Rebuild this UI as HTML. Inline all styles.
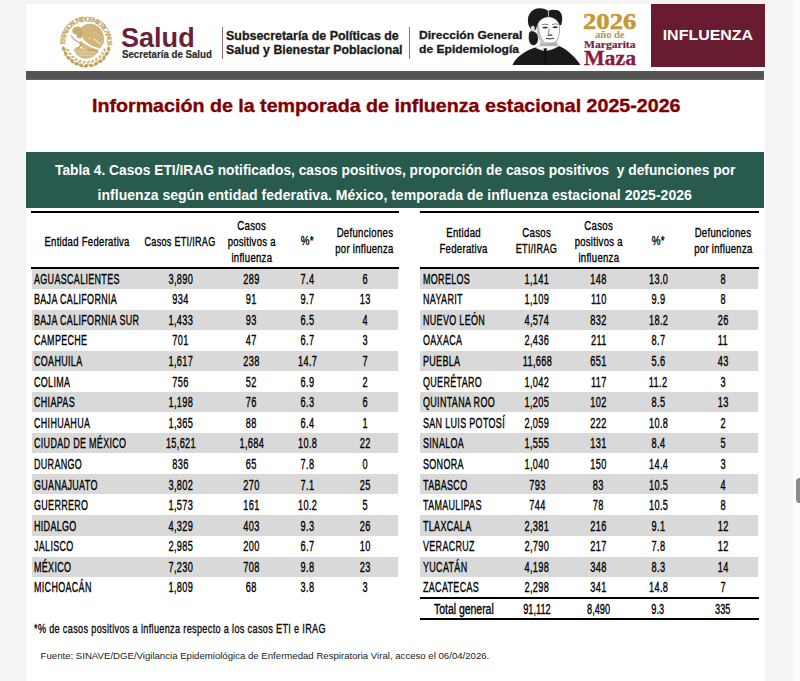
<!DOCTYPE html>
<html><head><meta charset="utf-8"><style>
html,body{margin:0;padding:0}
body{width:800px;height:681px;overflow:hidden;position:relative;background:#f4f4f4;font-family:"Liberation Sans",sans-serif}
.r{position:absolute}
.t{position:absolute;white-space:nowrap;line-height:1}
.c{width:0;display:flex;justify-content:center}
.c span{display:inline-block;white-space:nowrap;flex:none}
.n{-webkit-text-stroke:0.25px #000}
</style></head><body>
<div class="r" style="left:793px;top:0;width:7px;height:681px;background:#fcfcfc"></div>
<div class="r" style="left:796px;top:478px;width:7px;height:25px;border-radius:3.5px;background:#8a8a8a"></div>
<div class="r" style="left:26px;top:4px;width:739px;height:677px;background:#fff"></div>
<div class="r" style="left:32.2px;top:268.40px;width:365.90px;height:20.25px;background:#d9d9d9"></div>
<div class="t" style="left:34.30px;top:271.75px;font-size:14.0px;font-weight:normal;color:#000;font-family:'Liberation Sans';transform:scaleX(0.641);transform-origin:0 0;letter-spacing:0.5px;-webkit-text-stroke:0.35px #000;">AGUASCALIENTES</div>
<div class="t c" style="left:180.30px;top:271.75px;font-size:14.0px;font-weight:normal;color:#000;font-family:'Liberation Sans';letter-spacing:0.5px;margin-right:-0.5px;-webkit-text-stroke:0.35px #000;"><span style="transform:scaleX(0.656);letter-spacing:0.5px;margin-right:-0.5px;-webkit-text-stroke:0.35px #000;">3,890</span></div>
<div class="t c" style="left:251.40px;top:271.75px;font-size:14.0px;font-weight:normal;color:#000;font-family:'Liberation Sans';letter-spacing:0.5px;margin-right:-0.5px;-webkit-text-stroke:0.35px #000;"><span style="transform:scaleX(0.656);letter-spacing:0.5px;margin-right:-0.5px;-webkit-text-stroke:0.35px #000;">289</span></div>
<div class="t c" style="left:307.20px;top:271.75px;font-size:14.0px;font-weight:normal;color:#000;font-family:'Liberation Sans';letter-spacing:0.5px;margin-right:-0.5px;-webkit-text-stroke:0.35px #000;"><span style="transform:scaleX(0.656);letter-spacing:0.5px;margin-right:-0.5px;-webkit-text-stroke:0.35px #000;">7.4</span></div>
<div class="t c" style="left:365.00px;top:271.75px;font-size:14.0px;font-weight:normal;color:#000;font-family:'Liberation Sans';letter-spacing:0.5px;margin-right:-0.5px;-webkit-text-stroke:0.35px #000;"><span style="transform:scaleX(0.656);letter-spacing:0.5px;margin-right:-0.5px;-webkit-text-stroke:0.35px #000;">6</span></div>
<div class="t" style="left:34.30px;top:292.33px;font-size:14.0px;font-weight:normal;color:#000;font-family:'Liberation Sans';transform:scaleX(0.641);transform-origin:0 0;letter-spacing:0.5px;-webkit-text-stroke:0.35px #000;">BAJA CALIFORNIA</div>
<div class="t c" style="left:180.30px;top:292.33px;font-size:14.0px;font-weight:normal;color:#000;font-family:'Liberation Sans';letter-spacing:0.5px;margin-right:-0.5px;-webkit-text-stroke:0.35px #000;"><span style="transform:scaleX(0.656);letter-spacing:0.5px;margin-right:-0.5px;-webkit-text-stroke:0.35px #000;">934</span></div>
<div class="t c" style="left:251.40px;top:292.33px;font-size:14.0px;font-weight:normal;color:#000;font-family:'Liberation Sans';letter-spacing:0.5px;margin-right:-0.5px;-webkit-text-stroke:0.35px #000;"><span style="transform:scaleX(0.656);letter-spacing:0.5px;margin-right:-0.5px;-webkit-text-stroke:0.35px #000;">91</span></div>
<div class="t c" style="left:307.20px;top:292.33px;font-size:14.0px;font-weight:normal;color:#000;font-family:'Liberation Sans';letter-spacing:0.5px;margin-right:-0.5px;-webkit-text-stroke:0.35px #000;"><span style="transform:scaleX(0.656);letter-spacing:0.5px;margin-right:-0.5px;-webkit-text-stroke:0.35px #000;">9.7</span></div>
<div class="t c" style="left:365.00px;top:292.33px;font-size:14.0px;font-weight:normal;color:#000;font-family:'Liberation Sans';letter-spacing:0.5px;margin-right:-0.5px;-webkit-text-stroke:0.35px #000;"><span style="transform:scaleX(0.656);letter-spacing:0.5px;margin-right:-0.5px;-webkit-text-stroke:0.35px #000;">13</span></div>
<div class="r" style="left:32.2px;top:309.56px;width:365.90px;height:20.25px;background:#d9d9d9"></div>
<div class="t" style="left:34.30px;top:312.91px;font-size:14.0px;font-weight:normal;color:#000;font-family:'Liberation Sans';transform:scaleX(0.641);transform-origin:0 0;letter-spacing:0.5px;-webkit-text-stroke:0.35px #000;">BAJA CALIFORNIA SUR</div>
<div class="t c" style="left:180.30px;top:312.91px;font-size:14.0px;font-weight:normal;color:#000;font-family:'Liberation Sans';letter-spacing:0.5px;margin-right:-0.5px;-webkit-text-stroke:0.35px #000;"><span style="transform:scaleX(0.656);letter-spacing:0.5px;margin-right:-0.5px;-webkit-text-stroke:0.35px #000;">1,433</span></div>
<div class="t c" style="left:251.40px;top:312.91px;font-size:14.0px;font-weight:normal;color:#000;font-family:'Liberation Sans';letter-spacing:0.5px;margin-right:-0.5px;-webkit-text-stroke:0.35px #000;"><span style="transform:scaleX(0.656);letter-spacing:0.5px;margin-right:-0.5px;-webkit-text-stroke:0.35px #000;">93</span></div>
<div class="t c" style="left:307.20px;top:312.91px;font-size:14.0px;font-weight:normal;color:#000;font-family:'Liberation Sans';letter-spacing:0.5px;margin-right:-0.5px;-webkit-text-stroke:0.35px #000;"><span style="transform:scaleX(0.656);letter-spacing:0.5px;margin-right:-0.5px;-webkit-text-stroke:0.35px #000;">6.5</span></div>
<div class="t c" style="left:365.00px;top:312.91px;font-size:14.0px;font-weight:normal;color:#000;font-family:'Liberation Sans';letter-spacing:0.5px;margin-right:-0.5px;-webkit-text-stroke:0.35px #000;"><span style="transform:scaleX(0.656);letter-spacing:0.5px;margin-right:-0.5px;-webkit-text-stroke:0.35px #000;">4</span></div>
<div class="t" style="left:34.30px;top:333.49px;font-size:14.0px;font-weight:normal;color:#000;font-family:'Liberation Sans';transform:scaleX(0.641);transform-origin:0 0;letter-spacing:0.5px;-webkit-text-stroke:0.35px #000;">CAMPECHE</div>
<div class="t c" style="left:180.30px;top:333.49px;font-size:14.0px;font-weight:normal;color:#000;font-family:'Liberation Sans';letter-spacing:0.5px;margin-right:-0.5px;-webkit-text-stroke:0.35px #000;"><span style="transform:scaleX(0.656);letter-spacing:0.5px;margin-right:-0.5px;-webkit-text-stroke:0.35px #000;">701</span></div>
<div class="t c" style="left:251.40px;top:333.49px;font-size:14.0px;font-weight:normal;color:#000;font-family:'Liberation Sans';letter-spacing:0.5px;margin-right:-0.5px;-webkit-text-stroke:0.35px #000;"><span style="transform:scaleX(0.656);letter-spacing:0.5px;margin-right:-0.5px;-webkit-text-stroke:0.35px #000;">47</span></div>
<div class="t c" style="left:307.20px;top:333.49px;font-size:14.0px;font-weight:normal;color:#000;font-family:'Liberation Sans';letter-spacing:0.5px;margin-right:-0.5px;-webkit-text-stroke:0.35px #000;"><span style="transform:scaleX(0.656);letter-spacing:0.5px;margin-right:-0.5px;-webkit-text-stroke:0.35px #000;">6.7</span></div>
<div class="t c" style="left:365.00px;top:333.49px;font-size:14.0px;font-weight:normal;color:#000;font-family:'Liberation Sans';letter-spacing:0.5px;margin-right:-0.5px;-webkit-text-stroke:0.35px #000;"><span style="transform:scaleX(0.656);letter-spacing:0.5px;margin-right:-0.5px;-webkit-text-stroke:0.35px #000;">3</span></div>
<div class="r" style="left:32.2px;top:350.72px;width:365.90px;height:20.25px;background:#d9d9d9"></div>
<div class="t" style="left:34.30px;top:354.07px;font-size:14.0px;font-weight:normal;color:#000;font-family:'Liberation Sans';transform:scaleX(0.641);transform-origin:0 0;letter-spacing:0.5px;-webkit-text-stroke:0.35px #000;">COAHUILA</div>
<div class="t c" style="left:180.30px;top:354.07px;font-size:14.0px;font-weight:normal;color:#000;font-family:'Liberation Sans';letter-spacing:0.5px;margin-right:-0.5px;-webkit-text-stroke:0.35px #000;"><span style="transform:scaleX(0.656);letter-spacing:0.5px;margin-right:-0.5px;-webkit-text-stroke:0.35px #000;">1,617</span></div>
<div class="t c" style="left:251.40px;top:354.07px;font-size:14.0px;font-weight:normal;color:#000;font-family:'Liberation Sans';letter-spacing:0.5px;margin-right:-0.5px;-webkit-text-stroke:0.35px #000;"><span style="transform:scaleX(0.656);letter-spacing:0.5px;margin-right:-0.5px;-webkit-text-stroke:0.35px #000;">238</span></div>
<div class="t c" style="left:307.20px;top:354.07px;font-size:14.0px;font-weight:normal;color:#000;font-family:'Liberation Sans';letter-spacing:0.5px;margin-right:-0.5px;-webkit-text-stroke:0.35px #000;"><span style="transform:scaleX(0.656);letter-spacing:0.5px;margin-right:-0.5px;-webkit-text-stroke:0.35px #000;">14.7</span></div>
<div class="t c" style="left:365.00px;top:354.07px;font-size:14.0px;font-weight:normal;color:#000;font-family:'Liberation Sans';letter-spacing:0.5px;margin-right:-0.5px;-webkit-text-stroke:0.35px #000;"><span style="transform:scaleX(0.656);letter-spacing:0.5px;margin-right:-0.5px;-webkit-text-stroke:0.35px #000;">7</span></div>
<div class="t" style="left:34.30px;top:374.65px;font-size:14.0px;font-weight:normal;color:#000;font-family:'Liberation Sans';transform:scaleX(0.641);transform-origin:0 0;letter-spacing:0.5px;-webkit-text-stroke:0.35px #000;">COLIMA</div>
<div class="t c" style="left:180.30px;top:374.65px;font-size:14.0px;font-weight:normal;color:#000;font-family:'Liberation Sans';letter-spacing:0.5px;margin-right:-0.5px;-webkit-text-stroke:0.35px #000;"><span style="transform:scaleX(0.656);letter-spacing:0.5px;margin-right:-0.5px;-webkit-text-stroke:0.35px #000;">756</span></div>
<div class="t c" style="left:251.40px;top:374.65px;font-size:14.0px;font-weight:normal;color:#000;font-family:'Liberation Sans';letter-spacing:0.5px;margin-right:-0.5px;-webkit-text-stroke:0.35px #000;"><span style="transform:scaleX(0.656);letter-spacing:0.5px;margin-right:-0.5px;-webkit-text-stroke:0.35px #000;">52</span></div>
<div class="t c" style="left:307.20px;top:374.65px;font-size:14.0px;font-weight:normal;color:#000;font-family:'Liberation Sans';letter-spacing:0.5px;margin-right:-0.5px;-webkit-text-stroke:0.35px #000;"><span style="transform:scaleX(0.656);letter-spacing:0.5px;margin-right:-0.5px;-webkit-text-stroke:0.35px #000;">6.9</span></div>
<div class="t c" style="left:365.00px;top:374.65px;font-size:14.0px;font-weight:normal;color:#000;font-family:'Liberation Sans';letter-spacing:0.5px;margin-right:-0.5px;-webkit-text-stroke:0.35px #000;"><span style="transform:scaleX(0.656);letter-spacing:0.5px;margin-right:-0.5px;-webkit-text-stroke:0.35px #000;">2</span></div>
<div class="r" style="left:32.2px;top:391.88px;width:365.90px;height:20.25px;background:#d9d9d9"></div>
<div class="t" style="left:34.30px;top:395.23px;font-size:14.0px;font-weight:normal;color:#000;font-family:'Liberation Sans';transform:scaleX(0.641);transform-origin:0 0;letter-spacing:0.5px;-webkit-text-stroke:0.35px #000;">CHIAPAS</div>
<div class="t c" style="left:180.30px;top:395.23px;font-size:14.0px;font-weight:normal;color:#000;font-family:'Liberation Sans';letter-spacing:0.5px;margin-right:-0.5px;-webkit-text-stroke:0.35px #000;"><span style="transform:scaleX(0.656);letter-spacing:0.5px;margin-right:-0.5px;-webkit-text-stroke:0.35px #000;">1,198</span></div>
<div class="t c" style="left:251.40px;top:395.23px;font-size:14.0px;font-weight:normal;color:#000;font-family:'Liberation Sans';letter-spacing:0.5px;margin-right:-0.5px;-webkit-text-stroke:0.35px #000;"><span style="transform:scaleX(0.656);letter-spacing:0.5px;margin-right:-0.5px;-webkit-text-stroke:0.35px #000;">76</span></div>
<div class="t c" style="left:307.20px;top:395.23px;font-size:14.0px;font-weight:normal;color:#000;font-family:'Liberation Sans';letter-spacing:0.5px;margin-right:-0.5px;-webkit-text-stroke:0.35px #000;"><span style="transform:scaleX(0.656);letter-spacing:0.5px;margin-right:-0.5px;-webkit-text-stroke:0.35px #000;">6.3</span></div>
<div class="t c" style="left:365.00px;top:395.23px;font-size:14.0px;font-weight:normal;color:#000;font-family:'Liberation Sans';letter-spacing:0.5px;margin-right:-0.5px;-webkit-text-stroke:0.35px #000;"><span style="transform:scaleX(0.656);letter-spacing:0.5px;margin-right:-0.5px;-webkit-text-stroke:0.35px #000;">6</span></div>
<div class="t" style="left:34.30px;top:415.81px;font-size:14.0px;font-weight:normal;color:#000;font-family:'Liberation Sans';transform:scaleX(0.641);transform-origin:0 0;letter-spacing:0.5px;-webkit-text-stroke:0.35px #000;">CHIHUAHUA</div>
<div class="t c" style="left:180.30px;top:415.81px;font-size:14.0px;font-weight:normal;color:#000;font-family:'Liberation Sans';letter-spacing:0.5px;margin-right:-0.5px;-webkit-text-stroke:0.35px #000;"><span style="transform:scaleX(0.656);letter-spacing:0.5px;margin-right:-0.5px;-webkit-text-stroke:0.35px #000;">1,365</span></div>
<div class="t c" style="left:251.40px;top:415.81px;font-size:14.0px;font-weight:normal;color:#000;font-family:'Liberation Sans';letter-spacing:0.5px;margin-right:-0.5px;-webkit-text-stroke:0.35px #000;"><span style="transform:scaleX(0.656);letter-spacing:0.5px;margin-right:-0.5px;-webkit-text-stroke:0.35px #000;">88</span></div>
<div class="t c" style="left:307.20px;top:415.81px;font-size:14.0px;font-weight:normal;color:#000;font-family:'Liberation Sans';letter-spacing:0.5px;margin-right:-0.5px;-webkit-text-stroke:0.35px #000;"><span style="transform:scaleX(0.656);letter-spacing:0.5px;margin-right:-0.5px;-webkit-text-stroke:0.35px #000;">6.4</span></div>
<div class="t c" style="left:365.00px;top:415.81px;font-size:14.0px;font-weight:normal;color:#000;font-family:'Liberation Sans';letter-spacing:0.5px;margin-right:-0.5px;-webkit-text-stroke:0.35px #000;"><span style="transform:scaleX(0.656);letter-spacing:0.5px;margin-right:-0.5px;-webkit-text-stroke:0.35px #000;">1</span></div>
<div class="r" style="left:32.2px;top:433.04px;width:365.90px;height:20.25px;background:#d9d9d9"></div>
<div class="t" style="left:34.30px;top:436.39px;font-size:14.0px;font-weight:normal;color:#000;font-family:'Liberation Sans';transform:scaleX(0.641);transform-origin:0 0;letter-spacing:0.5px;-webkit-text-stroke:0.35px #000;">CIUDAD DE MÉXICO</div>
<div class="t c" style="left:180.30px;top:436.39px;font-size:14.0px;font-weight:normal;color:#000;font-family:'Liberation Sans';letter-spacing:0.5px;margin-right:-0.5px;-webkit-text-stroke:0.35px #000;"><span style="transform:scaleX(0.656);letter-spacing:0.5px;margin-right:-0.5px;-webkit-text-stroke:0.35px #000;">15,621</span></div>
<div class="t c" style="left:251.40px;top:436.39px;font-size:14.0px;font-weight:normal;color:#000;font-family:'Liberation Sans';letter-spacing:0.5px;margin-right:-0.5px;-webkit-text-stroke:0.35px #000;"><span style="transform:scaleX(0.656);letter-spacing:0.5px;margin-right:-0.5px;-webkit-text-stroke:0.35px #000;">1,684</span></div>
<div class="t c" style="left:307.20px;top:436.39px;font-size:14.0px;font-weight:normal;color:#000;font-family:'Liberation Sans';letter-spacing:0.5px;margin-right:-0.5px;-webkit-text-stroke:0.35px #000;"><span style="transform:scaleX(0.656);letter-spacing:0.5px;margin-right:-0.5px;-webkit-text-stroke:0.35px #000;">10.8</span></div>
<div class="t c" style="left:365.00px;top:436.39px;font-size:14.0px;font-weight:normal;color:#000;font-family:'Liberation Sans';letter-spacing:0.5px;margin-right:-0.5px;-webkit-text-stroke:0.35px #000;"><span style="transform:scaleX(0.656);letter-spacing:0.5px;margin-right:-0.5px;-webkit-text-stroke:0.35px #000;">22</span></div>
<div class="t" style="left:34.30px;top:456.97px;font-size:14.0px;font-weight:normal;color:#000;font-family:'Liberation Sans';transform:scaleX(0.641);transform-origin:0 0;letter-spacing:0.5px;-webkit-text-stroke:0.35px #000;">DURANGO</div>
<div class="t c" style="left:180.30px;top:456.97px;font-size:14.0px;font-weight:normal;color:#000;font-family:'Liberation Sans';letter-spacing:0.5px;margin-right:-0.5px;-webkit-text-stroke:0.35px #000;"><span style="transform:scaleX(0.656);letter-spacing:0.5px;margin-right:-0.5px;-webkit-text-stroke:0.35px #000;">836</span></div>
<div class="t c" style="left:251.40px;top:456.97px;font-size:14.0px;font-weight:normal;color:#000;font-family:'Liberation Sans';letter-spacing:0.5px;margin-right:-0.5px;-webkit-text-stroke:0.35px #000;"><span style="transform:scaleX(0.656);letter-spacing:0.5px;margin-right:-0.5px;-webkit-text-stroke:0.35px #000;">65</span></div>
<div class="t c" style="left:307.20px;top:456.97px;font-size:14.0px;font-weight:normal;color:#000;font-family:'Liberation Sans';letter-spacing:0.5px;margin-right:-0.5px;-webkit-text-stroke:0.35px #000;"><span style="transform:scaleX(0.656);letter-spacing:0.5px;margin-right:-0.5px;-webkit-text-stroke:0.35px #000;">7.8</span></div>
<div class="t c" style="left:365.00px;top:456.97px;font-size:14.0px;font-weight:normal;color:#000;font-family:'Liberation Sans';letter-spacing:0.5px;margin-right:-0.5px;-webkit-text-stroke:0.35px #000;"><span style="transform:scaleX(0.656);letter-spacing:0.5px;margin-right:-0.5px;-webkit-text-stroke:0.35px #000;">0</span></div>
<div class="r" style="left:32.2px;top:474.20px;width:365.90px;height:20.25px;background:#d9d9d9"></div>
<div class="t" style="left:34.30px;top:477.55px;font-size:14.0px;font-weight:normal;color:#000;font-family:'Liberation Sans';transform:scaleX(0.641);transform-origin:0 0;letter-spacing:0.5px;-webkit-text-stroke:0.35px #000;">GUANAJUATO</div>
<div class="t c" style="left:180.30px;top:477.55px;font-size:14.0px;font-weight:normal;color:#000;font-family:'Liberation Sans';letter-spacing:0.5px;margin-right:-0.5px;-webkit-text-stroke:0.35px #000;"><span style="transform:scaleX(0.656);letter-spacing:0.5px;margin-right:-0.5px;-webkit-text-stroke:0.35px #000;">3,802</span></div>
<div class="t c" style="left:251.40px;top:477.55px;font-size:14.0px;font-weight:normal;color:#000;font-family:'Liberation Sans';letter-spacing:0.5px;margin-right:-0.5px;-webkit-text-stroke:0.35px #000;"><span style="transform:scaleX(0.656);letter-spacing:0.5px;margin-right:-0.5px;-webkit-text-stroke:0.35px #000;">270</span></div>
<div class="t c" style="left:307.20px;top:477.55px;font-size:14.0px;font-weight:normal;color:#000;font-family:'Liberation Sans';letter-spacing:0.5px;margin-right:-0.5px;-webkit-text-stroke:0.35px #000;"><span style="transform:scaleX(0.656);letter-spacing:0.5px;margin-right:-0.5px;-webkit-text-stroke:0.35px #000;">7.1</span></div>
<div class="t c" style="left:365.00px;top:477.55px;font-size:14.0px;font-weight:normal;color:#000;font-family:'Liberation Sans';letter-spacing:0.5px;margin-right:-0.5px;-webkit-text-stroke:0.35px #000;"><span style="transform:scaleX(0.656);letter-spacing:0.5px;margin-right:-0.5px;-webkit-text-stroke:0.35px #000;">25</span></div>
<div class="t" style="left:34.30px;top:498.13px;font-size:14.0px;font-weight:normal;color:#000;font-family:'Liberation Sans';transform:scaleX(0.641);transform-origin:0 0;letter-spacing:0.5px;-webkit-text-stroke:0.35px #000;">GUERRERO</div>
<div class="t c" style="left:180.30px;top:498.13px;font-size:14.0px;font-weight:normal;color:#000;font-family:'Liberation Sans';letter-spacing:0.5px;margin-right:-0.5px;-webkit-text-stroke:0.35px #000;"><span style="transform:scaleX(0.656);letter-spacing:0.5px;margin-right:-0.5px;-webkit-text-stroke:0.35px #000;">1,573</span></div>
<div class="t c" style="left:251.40px;top:498.13px;font-size:14.0px;font-weight:normal;color:#000;font-family:'Liberation Sans';letter-spacing:0.5px;margin-right:-0.5px;-webkit-text-stroke:0.35px #000;"><span style="transform:scaleX(0.656);letter-spacing:0.5px;margin-right:-0.5px;-webkit-text-stroke:0.35px #000;">161</span></div>
<div class="t c" style="left:307.20px;top:498.13px;font-size:14.0px;font-weight:normal;color:#000;font-family:'Liberation Sans';letter-spacing:0.5px;margin-right:-0.5px;-webkit-text-stroke:0.35px #000;"><span style="transform:scaleX(0.656);letter-spacing:0.5px;margin-right:-0.5px;-webkit-text-stroke:0.35px #000;">10.2</span></div>
<div class="t c" style="left:365.00px;top:498.13px;font-size:14.0px;font-weight:normal;color:#000;font-family:'Liberation Sans';letter-spacing:0.5px;margin-right:-0.5px;-webkit-text-stroke:0.35px #000;"><span style="transform:scaleX(0.656);letter-spacing:0.5px;margin-right:-0.5px;-webkit-text-stroke:0.35px #000;">5</span></div>
<div class="r" style="left:32.2px;top:515.36px;width:365.90px;height:20.25px;background:#d9d9d9"></div>
<div class="t" style="left:34.30px;top:518.71px;font-size:14.0px;font-weight:normal;color:#000;font-family:'Liberation Sans';transform:scaleX(0.641);transform-origin:0 0;letter-spacing:0.5px;-webkit-text-stroke:0.35px #000;">HIDALGO</div>
<div class="t c" style="left:180.30px;top:518.71px;font-size:14.0px;font-weight:normal;color:#000;font-family:'Liberation Sans';letter-spacing:0.5px;margin-right:-0.5px;-webkit-text-stroke:0.35px #000;"><span style="transform:scaleX(0.656);letter-spacing:0.5px;margin-right:-0.5px;-webkit-text-stroke:0.35px #000;">4,329</span></div>
<div class="t c" style="left:251.40px;top:518.71px;font-size:14.0px;font-weight:normal;color:#000;font-family:'Liberation Sans';letter-spacing:0.5px;margin-right:-0.5px;-webkit-text-stroke:0.35px #000;"><span style="transform:scaleX(0.656);letter-spacing:0.5px;margin-right:-0.5px;-webkit-text-stroke:0.35px #000;">403</span></div>
<div class="t c" style="left:307.20px;top:518.71px;font-size:14.0px;font-weight:normal;color:#000;font-family:'Liberation Sans';letter-spacing:0.5px;margin-right:-0.5px;-webkit-text-stroke:0.35px #000;"><span style="transform:scaleX(0.656);letter-spacing:0.5px;margin-right:-0.5px;-webkit-text-stroke:0.35px #000;">9.3</span></div>
<div class="t c" style="left:365.00px;top:518.71px;font-size:14.0px;font-weight:normal;color:#000;font-family:'Liberation Sans';letter-spacing:0.5px;margin-right:-0.5px;-webkit-text-stroke:0.35px #000;"><span style="transform:scaleX(0.656);letter-spacing:0.5px;margin-right:-0.5px;-webkit-text-stroke:0.35px #000;">26</span></div>
<div class="t" style="left:34.30px;top:539.29px;font-size:14.0px;font-weight:normal;color:#000;font-family:'Liberation Sans';transform:scaleX(0.641);transform-origin:0 0;letter-spacing:0.5px;-webkit-text-stroke:0.35px #000;">JALISCO</div>
<div class="t c" style="left:180.30px;top:539.29px;font-size:14.0px;font-weight:normal;color:#000;font-family:'Liberation Sans';letter-spacing:0.5px;margin-right:-0.5px;-webkit-text-stroke:0.35px #000;"><span style="transform:scaleX(0.656);letter-spacing:0.5px;margin-right:-0.5px;-webkit-text-stroke:0.35px #000;">2,985</span></div>
<div class="t c" style="left:251.40px;top:539.29px;font-size:14.0px;font-weight:normal;color:#000;font-family:'Liberation Sans';letter-spacing:0.5px;margin-right:-0.5px;-webkit-text-stroke:0.35px #000;"><span style="transform:scaleX(0.656);letter-spacing:0.5px;margin-right:-0.5px;-webkit-text-stroke:0.35px #000;">200</span></div>
<div class="t c" style="left:307.20px;top:539.29px;font-size:14.0px;font-weight:normal;color:#000;font-family:'Liberation Sans';letter-spacing:0.5px;margin-right:-0.5px;-webkit-text-stroke:0.35px #000;"><span style="transform:scaleX(0.656);letter-spacing:0.5px;margin-right:-0.5px;-webkit-text-stroke:0.35px #000;">6.7</span></div>
<div class="t c" style="left:365.00px;top:539.29px;font-size:14.0px;font-weight:normal;color:#000;font-family:'Liberation Sans';letter-spacing:0.5px;margin-right:-0.5px;-webkit-text-stroke:0.35px #000;"><span style="transform:scaleX(0.656);letter-spacing:0.5px;margin-right:-0.5px;-webkit-text-stroke:0.35px #000;">10</span></div>
<div class="r" style="left:32.2px;top:556.52px;width:365.90px;height:20.25px;background:#d9d9d9"></div>
<div class="t" style="left:34.30px;top:559.87px;font-size:14.0px;font-weight:normal;color:#000;font-family:'Liberation Sans';transform:scaleX(0.641);transform-origin:0 0;letter-spacing:0.5px;-webkit-text-stroke:0.35px #000;">MÉXICO</div>
<div class="t c" style="left:180.30px;top:559.87px;font-size:14.0px;font-weight:normal;color:#000;font-family:'Liberation Sans';letter-spacing:0.5px;margin-right:-0.5px;-webkit-text-stroke:0.35px #000;"><span style="transform:scaleX(0.656);letter-spacing:0.5px;margin-right:-0.5px;-webkit-text-stroke:0.35px #000;">7,230</span></div>
<div class="t c" style="left:251.40px;top:559.87px;font-size:14.0px;font-weight:normal;color:#000;font-family:'Liberation Sans';letter-spacing:0.5px;margin-right:-0.5px;-webkit-text-stroke:0.35px #000;"><span style="transform:scaleX(0.656);letter-spacing:0.5px;margin-right:-0.5px;-webkit-text-stroke:0.35px #000;">708</span></div>
<div class="t c" style="left:307.20px;top:559.87px;font-size:14.0px;font-weight:normal;color:#000;font-family:'Liberation Sans';letter-spacing:0.5px;margin-right:-0.5px;-webkit-text-stroke:0.35px #000;"><span style="transform:scaleX(0.656);letter-spacing:0.5px;margin-right:-0.5px;-webkit-text-stroke:0.35px #000;">9.8</span></div>
<div class="t c" style="left:365.00px;top:559.87px;font-size:14.0px;font-weight:normal;color:#000;font-family:'Liberation Sans';letter-spacing:0.5px;margin-right:-0.5px;-webkit-text-stroke:0.35px #000;"><span style="transform:scaleX(0.656);letter-spacing:0.5px;margin-right:-0.5px;-webkit-text-stroke:0.35px #000;">23</span></div>
<div class="t" style="left:34.30px;top:580.45px;font-size:14.0px;font-weight:normal;color:#000;font-family:'Liberation Sans';transform:scaleX(0.641);transform-origin:0 0;letter-spacing:0.5px;-webkit-text-stroke:0.35px #000;">MICHOACÁN</div>
<div class="t c" style="left:180.30px;top:580.45px;font-size:14.0px;font-weight:normal;color:#000;font-family:'Liberation Sans';letter-spacing:0.5px;margin-right:-0.5px;-webkit-text-stroke:0.35px #000;"><span style="transform:scaleX(0.656);letter-spacing:0.5px;margin-right:-0.5px;-webkit-text-stroke:0.35px #000;">1,809</span></div>
<div class="t c" style="left:251.40px;top:580.45px;font-size:14.0px;font-weight:normal;color:#000;font-family:'Liberation Sans';letter-spacing:0.5px;margin-right:-0.5px;-webkit-text-stroke:0.35px #000;"><span style="transform:scaleX(0.656);letter-spacing:0.5px;margin-right:-0.5px;-webkit-text-stroke:0.35px #000;">68</span></div>
<div class="t c" style="left:307.20px;top:580.45px;font-size:14.0px;font-weight:normal;color:#000;font-family:'Liberation Sans';letter-spacing:0.5px;margin-right:-0.5px;-webkit-text-stroke:0.35px #000;"><span style="transform:scaleX(0.656);letter-spacing:0.5px;margin-right:-0.5px;-webkit-text-stroke:0.35px #000;">3.8</span></div>
<div class="t c" style="left:365.00px;top:580.45px;font-size:14.0px;font-weight:normal;color:#000;font-family:'Liberation Sans';letter-spacing:0.5px;margin-right:-0.5px;-webkit-text-stroke:0.35px #000;"><span style="transform:scaleX(0.656);letter-spacing:0.5px;margin-right:-0.5px;-webkit-text-stroke:0.35px #000;">3</span></div>
<div class="r" style="left:31.3px;top:211.2px;width:368.0px;height:1.8px;background:#000"></div>
<div class="r" style="left:31.3px;top:267.4px;width:368.0px;height:1.9px;background:#000"></div>
<div class="r" style="left:420.3px;top:268.40px;width:337.90px;height:20.25px;background:#d9d9d9"></div>
<div class="t" style="left:422.50px;top:271.75px;font-size:14.0px;font-weight:normal;color:#000;font-family:'Liberation Sans';transform:scaleX(0.641);transform-origin:0 0;letter-spacing:0.5px;-webkit-text-stroke:0.35px #000;">MORELOS</div>
<div class="t c" style="left:536.90px;top:271.75px;font-size:14.0px;font-weight:normal;color:#000;font-family:'Liberation Sans';letter-spacing:0.5px;margin-right:-0.5px;-webkit-text-stroke:0.35px #000;"><span style="transform:scaleX(0.656);letter-spacing:0.5px;margin-right:-0.5px;-webkit-text-stroke:0.35px #000;">1,141</span></div>
<div class="t c" style="left:598.20px;top:271.75px;font-size:14.0px;font-weight:normal;color:#000;font-family:'Liberation Sans';letter-spacing:0.5px;margin-right:-0.5px;-webkit-text-stroke:0.35px #000;"><span style="transform:scaleX(0.656);letter-spacing:0.5px;margin-right:-0.5px;-webkit-text-stroke:0.35px #000;">148</span></div>
<div class="t c" style="left:658.20px;top:271.75px;font-size:14.0px;font-weight:normal;color:#000;font-family:'Liberation Sans';letter-spacing:0.5px;margin-right:-0.5px;-webkit-text-stroke:0.35px #000;"><span style="transform:scaleX(0.656);letter-spacing:0.5px;margin-right:-0.5px;-webkit-text-stroke:0.35px #000;">13.0</span></div>
<div class="t c" style="left:722.60px;top:271.75px;font-size:14.0px;font-weight:normal;color:#000;font-family:'Liberation Sans';letter-spacing:0.5px;margin-right:-0.5px;-webkit-text-stroke:0.35px #000;"><span style="transform:scaleX(0.656);letter-spacing:0.5px;margin-right:-0.5px;-webkit-text-stroke:0.35px #000;">8</span></div>
<div class="t" style="left:422.50px;top:292.33px;font-size:14.0px;font-weight:normal;color:#000;font-family:'Liberation Sans';transform:scaleX(0.641);transform-origin:0 0;letter-spacing:0.5px;-webkit-text-stroke:0.35px #000;">NAYARIT</div>
<div class="t c" style="left:536.90px;top:292.33px;font-size:14.0px;font-weight:normal;color:#000;font-family:'Liberation Sans';letter-spacing:0.5px;margin-right:-0.5px;-webkit-text-stroke:0.35px #000;"><span style="transform:scaleX(0.656);letter-spacing:0.5px;margin-right:-0.5px;-webkit-text-stroke:0.35px #000;">1,109</span></div>
<div class="t c" style="left:598.20px;top:292.33px;font-size:14.0px;font-weight:normal;color:#000;font-family:'Liberation Sans';letter-spacing:0.5px;margin-right:-0.5px;-webkit-text-stroke:0.35px #000;"><span style="transform:scaleX(0.656);letter-spacing:0.5px;margin-right:-0.5px;-webkit-text-stroke:0.35px #000;">110</span></div>
<div class="t c" style="left:658.20px;top:292.33px;font-size:14.0px;font-weight:normal;color:#000;font-family:'Liberation Sans';letter-spacing:0.5px;margin-right:-0.5px;-webkit-text-stroke:0.35px #000;"><span style="transform:scaleX(0.656);letter-spacing:0.5px;margin-right:-0.5px;-webkit-text-stroke:0.35px #000;">9.9</span></div>
<div class="t c" style="left:722.60px;top:292.33px;font-size:14.0px;font-weight:normal;color:#000;font-family:'Liberation Sans';letter-spacing:0.5px;margin-right:-0.5px;-webkit-text-stroke:0.35px #000;"><span style="transform:scaleX(0.656);letter-spacing:0.5px;margin-right:-0.5px;-webkit-text-stroke:0.35px #000;">8</span></div>
<div class="r" style="left:420.3px;top:309.56px;width:337.90px;height:20.25px;background:#d9d9d9"></div>
<div class="t" style="left:422.50px;top:312.91px;font-size:14.0px;font-weight:normal;color:#000;font-family:'Liberation Sans';transform:scaleX(0.641);transform-origin:0 0;letter-spacing:0.5px;-webkit-text-stroke:0.35px #000;">NUEVO LEÓN</div>
<div class="t c" style="left:536.90px;top:312.91px;font-size:14.0px;font-weight:normal;color:#000;font-family:'Liberation Sans';letter-spacing:0.5px;margin-right:-0.5px;-webkit-text-stroke:0.35px #000;"><span style="transform:scaleX(0.656);letter-spacing:0.5px;margin-right:-0.5px;-webkit-text-stroke:0.35px #000;">4,574</span></div>
<div class="t c" style="left:598.20px;top:312.91px;font-size:14.0px;font-weight:normal;color:#000;font-family:'Liberation Sans';letter-spacing:0.5px;margin-right:-0.5px;-webkit-text-stroke:0.35px #000;"><span style="transform:scaleX(0.656);letter-spacing:0.5px;margin-right:-0.5px;-webkit-text-stroke:0.35px #000;">832</span></div>
<div class="t c" style="left:658.20px;top:312.91px;font-size:14.0px;font-weight:normal;color:#000;font-family:'Liberation Sans';letter-spacing:0.5px;margin-right:-0.5px;-webkit-text-stroke:0.35px #000;"><span style="transform:scaleX(0.656);letter-spacing:0.5px;margin-right:-0.5px;-webkit-text-stroke:0.35px #000;">18.2</span></div>
<div class="t c" style="left:722.60px;top:312.91px;font-size:14.0px;font-weight:normal;color:#000;font-family:'Liberation Sans';letter-spacing:0.5px;margin-right:-0.5px;-webkit-text-stroke:0.35px #000;"><span style="transform:scaleX(0.656);letter-spacing:0.5px;margin-right:-0.5px;-webkit-text-stroke:0.35px #000;">26</span></div>
<div class="t" style="left:422.50px;top:333.49px;font-size:14.0px;font-weight:normal;color:#000;font-family:'Liberation Sans';transform:scaleX(0.641);transform-origin:0 0;letter-spacing:0.5px;-webkit-text-stroke:0.35px #000;">OAXACA</div>
<div class="t c" style="left:536.90px;top:333.49px;font-size:14.0px;font-weight:normal;color:#000;font-family:'Liberation Sans';letter-spacing:0.5px;margin-right:-0.5px;-webkit-text-stroke:0.35px #000;"><span style="transform:scaleX(0.656);letter-spacing:0.5px;margin-right:-0.5px;-webkit-text-stroke:0.35px #000;">2,436</span></div>
<div class="t c" style="left:598.20px;top:333.49px;font-size:14.0px;font-weight:normal;color:#000;font-family:'Liberation Sans';letter-spacing:0.5px;margin-right:-0.5px;-webkit-text-stroke:0.35px #000;"><span style="transform:scaleX(0.656);letter-spacing:0.5px;margin-right:-0.5px;-webkit-text-stroke:0.35px #000;">211</span></div>
<div class="t c" style="left:658.20px;top:333.49px;font-size:14.0px;font-weight:normal;color:#000;font-family:'Liberation Sans';letter-spacing:0.5px;margin-right:-0.5px;-webkit-text-stroke:0.35px #000;"><span style="transform:scaleX(0.656);letter-spacing:0.5px;margin-right:-0.5px;-webkit-text-stroke:0.35px #000;">8.7</span></div>
<div class="t c" style="left:722.60px;top:333.49px;font-size:14.0px;font-weight:normal;color:#000;font-family:'Liberation Sans';letter-spacing:0.5px;margin-right:-0.5px;-webkit-text-stroke:0.35px #000;"><span style="transform:scaleX(0.656);letter-spacing:0.5px;margin-right:-0.5px;-webkit-text-stroke:0.35px #000;">11</span></div>
<div class="r" style="left:420.3px;top:350.72px;width:337.90px;height:20.25px;background:#d9d9d9"></div>
<div class="t" style="left:422.50px;top:354.07px;font-size:14.0px;font-weight:normal;color:#000;font-family:'Liberation Sans';transform:scaleX(0.641);transform-origin:0 0;letter-spacing:0.5px;-webkit-text-stroke:0.35px #000;">PUEBLA</div>
<div class="t c" style="left:536.90px;top:354.07px;font-size:14.0px;font-weight:normal;color:#000;font-family:'Liberation Sans';letter-spacing:0.5px;margin-right:-0.5px;-webkit-text-stroke:0.35px #000;"><span style="transform:scaleX(0.656);letter-spacing:0.5px;margin-right:-0.5px;-webkit-text-stroke:0.35px #000;">11,668</span></div>
<div class="t c" style="left:598.20px;top:354.07px;font-size:14.0px;font-weight:normal;color:#000;font-family:'Liberation Sans';letter-spacing:0.5px;margin-right:-0.5px;-webkit-text-stroke:0.35px #000;"><span style="transform:scaleX(0.656);letter-spacing:0.5px;margin-right:-0.5px;-webkit-text-stroke:0.35px #000;">651</span></div>
<div class="t c" style="left:658.20px;top:354.07px;font-size:14.0px;font-weight:normal;color:#000;font-family:'Liberation Sans';letter-spacing:0.5px;margin-right:-0.5px;-webkit-text-stroke:0.35px #000;"><span style="transform:scaleX(0.656);letter-spacing:0.5px;margin-right:-0.5px;-webkit-text-stroke:0.35px #000;">5.6</span></div>
<div class="t c" style="left:722.60px;top:354.07px;font-size:14.0px;font-weight:normal;color:#000;font-family:'Liberation Sans';letter-spacing:0.5px;margin-right:-0.5px;-webkit-text-stroke:0.35px #000;"><span style="transform:scaleX(0.656);letter-spacing:0.5px;margin-right:-0.5px;-webkit-text-stroke:0.35px #000;">43</span></div>
<div class="t" style="left:422.50px;top:374.65px;font-size:14.0px;font-weight:normal;color:#000;font-family:'Liberation Sans';transform:scaleX(0.641);transform-origin:0 0;letter-spacing:0.5px;-webkit-text-stroke:0.35px #000;">QUERÉTARO</div>
<div class="t c" style="left:536.90px;top:374.65px;font-size:14.0px;font-weight:normal;color:#000;font-family:'Liberation Sans';letter-spacing:0.5px;margin-right:-0.5px;-webkit-text-stroke:0.35px #000;"><span style="transform:scaleX(0.656);letter-spacing:0.5px;margin-right:-0.5px;-webkit-text-stroke:0.35px #000;">1,042</span></div>
<div class="t c" style="left:598.20px;top:374.65px;font-size:14.0px;font-weight:normal;color:#000;font-family:'Liberation Sans';letter-spacing:0.5px;margin-right:-0.5px;-webkit-text-stroke:0.35px #000;"><span style="transform:scaleX(0.656);letter-spacing:0.5px;margin-right:-0.5px;-webkit-text-stroke:0.35px #000;">117</span></div>
<div class="t c" style="left:658.20px;top:374.65px;font-size:14.0px;font-weight:normal;color:#000;font-family:'Liberation Sans';letter-spacing:0.5px;margin-right:-0.5px;-webkit-text-stroke:0.35px #000;"><span style="transform:scaleX(0.656);letter-spacing:0.5px;margin-right:-0.5px;-webkit-text-stroke:0.35px #000;">11.2</span></div>
<div class="t c" style="left:722.60px;top:374.65px;font-size:14.0px;font-weight:normal;color:#000;font-family:'Liberation Sans';letter-spacing:0.5px;margin-right:-0.5px;-webkit-text-stroke:0.35px #000;"><span style="transform:scaleX(0.656);letter-spacing:0.5px;margin-right:-0.5px;-webkit-text-stroke:0.35px #000;">3</span></div>
<div class="r" style="left:420.3px;top:391.88px;width:337.90px;height:20.25px;background:#d9d9d9"></div>
<div class="t" style="left:422.50px;top:395.23px;font-size:14.0px;font-weight:normal;color:#000;font-family:'Liberation Sans';transform:scaleX(0.641);transform-origin:0 0;letter-spacing:0.5px;-webkit-text-stroke:0.35px #000;">QUINTANA ROO</div>
<div class="t c" style="left:536.90px;top:395.23px;font-size:14.0px;font-weight:normal;color:#000;font-family:'Liberation Sans';letter-spacing:0.5px;margin-right:-0.5px;-webkit-text-stroke:0.35px #000;"><span style="transform:scaleX(0.656);letter-spacing:0.5px;margin-right:-0.5px;-webkit-text-stroke:0.35px #000;">1,205</span></div>
<div class="t c" style="left:598.20px;top:395.23px;font-size:14.0px;font-weight:normal;color:#000;font-family:'Liberation Sans';letter-spacing:0.5px;margin-right:-0.5px;-webkit-text-stroke:0.35px #000;"><span style="transform:scaleX(0.656);letter-spacing:0.5px;margin-right:-0.5px;-webkit-text-stroke:0.35px #000;">102</span></div>
<div class="t c" style="left:658.20px;top:395.23px;font-size:14.0px;font-weight:normal;color:#000;font-family:'Liberation Sans';letter-spacing:0.5px;margin-right:-0.5px;-webkit-text-stroke:0.35px #000;"><span style="transform:scaleX(0.656);letter-spacing:0.5px;margin-right:-0.5px;-webkit-text-stroke:0.35px #000;">8.5</span></div>
<div class="t c" style="left:722.60px;top:395.23px;font-size:14.0px;font-weight:normal;color:#000;font-family:'Liberation Sans';letter-spacing:0.5px;margin-right:-0.5px;-webkit-text-stroke:0.35px #000;"><span style="transform:scaleX(0.656);letter-spacing:0.5px;margin-right:-0.5px;-webkit-text-stroke:0.35px #000;">13</span></div>
<div class="t" style="left:422.50px;top:415.81px;font-size:14.0px;font-weight:normal;color:#000;font-family:'Liberation Sans';transform:scaleX(0.641);transform-origin:0 0;letter-spacing:0.5px;-webkit-text-stroke:0.35px #000;">SAN LUIS POTOSÍ</div>
<div class="t c" style="left:536.90px;top:415.81px;font-size:14.0px;font-weight:normal;color:#000;font-family:'Liberation Sans';letter-spacing:0.5px;margin-right:-0.5px;-webkit-text-stroke:0.35px #000;"><span style="transform:scaleX(0.656);letter-spacing:0.5px;margin-right:-0.5px;-webkit-text-stroke:0.35px #000;">2,059</span></div>
<div class="t c" style="left:598.20px;top:415.81px;font-size:14.0px;font-weight:normal;color:#000;font-family:'Liberation Sans';letter-spacing:0.5px;margin-right:-0.5px;-webkit-text-stroke:0.35px #000;"><span style="transform:scaleX(0.656);letter-spacing:0.5px;margin-right:-0.5px;-webkit-text-stroke:0.35px #000;">222</span></div>
<div class="t c" style="left:658.20px;top:415.81px;font-size:14.0px;font-weight:normal;color:#000;font-family:'Liberation Sans';letter-spacing:0.5px;margin-right:-0.5px;-webkit-text-stroke:0.35px #000;"><span style="transform:scaleX(0.656);letter-spacing:0.5px;margin-right:-0.5px;-webkit-text-stroke:0.35px #000;">10.8</span></div>
<div class="t c" style="left:722.60px;top:415.81px;font-size:14.0px;font-weight:normal;color:#000;font-family:'Liberation Sans';letter-spacing:0.5px;margin-right:-0.5px;-webkit-text-stroke:0.35px #000;"><span style="transform:scaleX(0.656);letter-spacing:0.5px;margin-right:-0.5px;-webkit-text-stroke:0.35px #000;">2</span></div>
<div class="r" style="left:420.3px;top:433.04px;width:337.90px;height:20.25px;background:#d9d9d9"></div>
<div class="t" style="left:422.50px;top:436.39px;font-size:14.0px;font-weight:normal;color:#000;font-family:'Liberation Sans';transform:scaleX(0.641);transform-origin:0 0;letter-spacing:0.5px;-webkit-text-stroke:0.35px #000;">SINALOA</div>
<div class="t c" style="left:536.90px;top:436.39px;font-size:14.0px;font-weight:normal;color:#000;font-family:'Liberation Sans';letter-spacing:0.5px;margin-right:-0.5px;-webkit-text-stroke:0.35px #000;"><span style="transform:scaleX(0.656);letter-spacing:0.5px;margin-right:-0.5px;-webkit-text-stroke:0.35px #000;">1,555</span></div>
<div class="t c" style="left:598.20px;top:436.39px;font-size:14.0px;font-weight:normal;color:#000;font-family:'Liberation Sans';letter-spacing:0.5px;margin-right:-0.5px;-webkit-text-stroke:0.35px #000;"><span style="transform:scaleX(0.656);letter-spacing:0.5px;margin-right:-0.5px;-webkit-text-stroke:0.35px #000;">131</span></div>
<div class="t c" style="left:658.20px;top:436.39px;font-size:14.0px;font-weight:normal;color:#000;font-family:'Liberation Sans';letter-spacing:0.5px;margin-right:-0.5px;-webkit-text-stroke:0.35px #000;"><span style="transform:scaleX(0.656);letter-spacing:0.5px;margin-right:-0.5px;-webkit-text-stroke:0.35px #000;">8.4</span></div>
<div class="t c" style="left:722.60px;top:436.39px;font-size:14.0px;font-weight:normal;color:#000;font-family:'Liberation Sans';letter-spacing:0.5px;margin-right:-0.5px;-webkit-text-stroke:0.35px #000;"><span style="transform:scaleX(0.656);letter-spacing:0.5px;margin-right:-0.5px;-webkit-text-stroke:0.35px #000;">5</span></div>
<div class="t" style="left:422.50px;top:456.97px;font-size:14.0px;font-weight:normal;color:#000;font-family:'Liberation Sans';transform:scaleX(0.641);transform-origin:0 0;letter-spacing:0.5px;-webkit-text-stroke:0.35px #000;">SONORA</div>
<div class="t c" style="left:536.90px;top:456.97px;font-size:14.0px;font-weight:normal;color:#000;font-family:'Liberation Sans';letter-spacing:0.5px;margin-right:-0.5px;-webkit-text-stroke:0.35px #000;"><span style="transform:scaleX(0.656);letter-spacing:0.5px;margin-right:-0.5px;-webkit-text-stroke:0.35px #000;">1,040</span></div>
<div class="t c" style="left:598.20px;top:456.97px;font-size:14.0px;font-weight:normal;color:#000;font-family:'Liberation Sans';letter-spacing:0.5px;margin-right:-0.5px;-webkit-text-stroke:0.35px #000;"><span style="transform:scaleX(0.656);letter-spacing:0.5px;margin-right:-0.5px;-webkit-text-stroke:0.35px #000;">150</span></div>
<div class="t c" style="left:658.20px;top:456.97px;font-size:14.0px;font-weight:normal;color:#000;font-family:'Liberation Sans';letter-spacing:0.5px;margin-right:-0.5px;-webkit-text-stroke:0.35px #000;"><span style="transform:scaleX(0.656);letter-spacing:0.5px;margin-right:-0.5px;-webkit-text-stroke:0.35px #000;">14.4</span></div>
<div class="t c" style="left:722.60px;top:456.97px;font-size:14.0px;font-weight:normal;color:#000;font-family:'Liberation Sans';letter-spacing:0.5px;margin-right:-0.5px;-webkit-text-stroke:0.35px #000;"><span style="transform:scaleX(0.656);letter-spacing:0.5px;margin-right:-0.5px;-webkit-text-stroke:0.35px #000;">3</span></div>
<div class="r" style="left:420.3px;top:474.20px;width:337.90px;height:20.25px;background:#d9d9d9"></div>
<div class="t" style="left:422.50px;top:477.55px;font-size:14.0px;font-weight:normal;color:#000;font-family:'Liberation Sans';transform:scaleX(0.641);transform-origin:0 0;letter-spacing:0.5px;-webkit-text-stroke:0.35px #000;">TABASCO</div>
<div class="t c" style="left:536.90px;top:477.55px;font-size:14.0px;font-weight:normal;color:#000;font-family:'Liberation Sans';letter-spacing:0.5px;margin-right:-0.5px;-webkit-text-stroke:0.35px #000;"><span style="transform:scaleX(0.656);letter-spacing:0.5px;margin-right:-0.5px;-webkit-text-stroke:0.35px #000;">793</span></div>
<div class="t c" style="left:598.20px;top:477.55px;font-size:14.0px;font-weight:normal;color:#000;font-family:'Liberation Sans';letter-spacing:0.5px;margin-right:-0.5px;-webkit-text-stroke:0.35px #000;"><span style="transform:scaleX(0.656);letter-spacing:0.5px;margin-right:-0.5px;-webkit-text-stroke:0.35px #000;">83</span></div>
<div class="t c" style="left:658.20px;top:477.55px;font-size:14.0px;font-weight:normal;color:#000;font-family:'Liberation Sans';letter-spacing:0.5px;margin-right:-0.5px;-webkit-text-stroke:0.35px #000;"><span style="transform:scaleX(0.656);letter-spacing:0.5px;margin-right:-0.5px;-webkit-text-stroke:0.35px #000;">10.5</span></div>
<div class="t c" style="left:722.60px;top:477.55px;font-size:14.0px;font-weight:normal;color:#000;font-family:'Liberation Sans';letter-spacing:0.5px;margin-right:-0.5px;-webkit-text-stroke:0.35px #000;"><span style="transform:scaleX(0.656);letter-spacing:0.5px;margin-right:-0.5px;-webkit-text-stroke:0.35px #000;">4</span></div>
<div class="t" style="left:422.50px;top:498.13px;font-size:14.0px;font-weight:normal;color:#000;font-family:'Liberation Sans';transform:scaleX(0.641);transform-origin:0 0;letter-spacing:0.5px;-webkit-text-stroke:0.35px #000;">TAMAULIPAS</div>
<div class="t c" style="left:536.90px;top:498.13px;font-size:14.0px;font-weight:normal;color:#000;font-family:'Liberation Sans';letter-spacing:0.5px;margin-right:-0.5px;-webkit-text-stroke:0.35px #000;"><span style="transform:scaleX(0.656);letter-spacing:0.5px;margin-right:-0.5px;-webkit-text-stroke:0.35px #000;">744</span></div>
<div class="t c" style="left:598.20px;top:498.13px;font-size:14.0px;font-weight:normal;color:#000;font-family:'Liberation Sans';letter-spacing:0.5px;margin-right:-0.5px;-webkit-text-stroke:0.35px #000;"><span style="transform:scaleX(0.656);letter-spacing:0.5px;margin-right:-0.5px;-webkit-text-stroke:0.35px #000;">78</span></div>
<div class="t c" style="left:658.20px;top:498.13px;font-size:14.0px;font-weight:normal;color:#000;font-family:'Liberation Sans';letter-spacing:0.5px;margin-right:-0.5px;-webkit-text-stroke:0.35px #000;"><span style="transform:scaleX(0.656);letter-spacing:0.5px;margin-right:-0.5px;-webkit-text-stroke:0.35px #000;">10.5</span></div>
<div class="t c" style="left:722.60px;top:498.13px;font-size:14.0px;font-weight:normal;color:#000;font-family:'Liberation Sans';letter-spacing:0.5px;margin-right:-0.5px;-webkit-text-stroke:0.35px #000;"><span style="transform:scaleX(0.656);letter-spacing:0.5px;margin-right:-0.5px;-webkit-text-stroke:0.35px #000;">8</span></div>
<div class="r" style="left:420.3px;top:515.36px;width:337.90px;height:20.25px;background:#d9d9d9"></div>
<div class="t" style="left:422.50px;top:518.71px;font-size:14.0px;font-weight:normal;color:#000;font-family:'Liberation Sans';transform:scaleX(0.641);transform-origin:0 0;letter-spacing:0.5px;-webkit-text-stroke:0.35px #000;">TLAXCALA</div>
<div class="t c" style="left:536.90px;top:518.71px;font-size:14.0px;font-weight:normal;color:#000;font-family:'Liberation Sans';letter-spacing:0.5px;margin-right:-0.5px;-webkit-text-stroke:0.35px #000;"><span style="transform:scaleX(0.656);letter-spacing:0.5px;margin-right:-0.5px;-webkit-text-stroke:0.35px #000;">2,381</span></div>
<div class="t c" style="left:598.20px;top:518.71px;font-size:14.0px;font-weight:normal;color:#000;font-family:'Liberation Sans';letter-spacing:0.5px;margin-right:-0.5px;-webkit-text-stroke:0.35px #000;"><span style="transform:scaleX(0.656);letter-spacing:0.5px;margin-right:-0.5px;-webkit-text-stroke:0.35px #000;">216</span></div>
<div class="t c" style="left:658.20px;top:518.71px;font-size:14.0px;font-weight:normal;color:#000;font-family:'Liberation Sans';letter-spacing:0.5px;margin-right:-0.5px;-webkit-text-stroke:0.35px #000;"><span style="transform:scaleX(0.656);letter-spacing:0.5px;margin-right:-0.5px;-webkit-text-stroke:0.35px #000;">9.1</span></div>
<div class="t c" style="left:722.60px;top:518.71px;font-size:14.0px;font-weight:normal;color:#000;font-family:'Liberation Sans';letter-spacing:0.5px;margin-right:-0.5px;-webkit-text-stroke:0.35px #000;"><span style="transform:scaleX(0.656);letter-spacing:0.5px;margin-right:-0.5px;-webkit-text-stroke:0.35px #000;">12</span></div>
<div class="t" style="left:422.50px;top:539.29px;font-size:14.0px;font-weight:normal;color:#000;font-family:'Liberation Sans';transform:scaleX(0.641);transform-origin:0 0;letter-spacing:0.5px;-webkit-text-stroke:0.35px #000;">VERACRUZ</div>
<div class="t c" style="left:536.90px;top:539.29px;font-size:14.0px;font-weight:normal;color:#000;font-family:'Liberation Sans';letter-spacing:0.5px;margin-right:-0.5px;-webkit-text-stroke:0.35px #000;"><span style="transform:scaleX(0.656);letter-spacing:0.5px;margin-right:-0.5px;-webkit-text-stroke:0.35px #000;">2,790</span></div>
<div class="t c" style="left:598.20px;top:539.29px;font-size:14.0px;font-weight:normal;color:#000;font-family:'Liberation Sans';letter-spacing:0.5px;margin-right:-0.5px;-webkit-text-stroke:0.35px #000;"><span style="transform:scaleX(0.656);letter-spacing:0.5px;margin-right:-0.5px;-webkit-text-stroke:0.35px #000;">217</span></div>
<div class="t c" style="left:658.20px;top:539.29px;font-size:14.0px;font-weight:normal;color:#000;font-family:'Liberation Sans';letter-spacing:0.5px;margin-right:-0.5px;-webkit-text-stroke:0.35px #000;"><span style="transform:scaleX(0.656);letter-spacing:0.5px;margin-right:-0.5px;-webkit-text-stroke:0.35px #000;">7.8</span></div>
<div class="t c" style="left:722.60px;top:539.29px;font-size:14.0px;font-weight:normal;color:#000;font-family:'Liberation Sans';letter-spacing:0.5px;margin-right:-0.5px;-webkit-text-stroke:0.35px #000;"><span style="transform:scaleX(0.656);letter-spacing:0.5px;margin-right:-0.5px;-webkit-text-stroke:0.35px #000;">12</span></div>
<div class="r" style="left:420.3px;top:556.52px;width:337.90px;height:20.25px;background:#d9d9d9"></div>
<div class="t" style="left:422.50px;top:559.87px;font-size:14.0px;font-weight:normal;color:#000;font-family:'Liberation Sans';transform:scaleX(0.641);transform-origin:0 0;letter-spacing:0.5px;-webkit-text-stroke:0.35px #000;">YUCATÁN</div>
<div class="t c" style="left:536.90px;top:559.87px;font-size:14.0px;font-weight:normal;color:#000;font-family:'Liberation Sans';letter-spacing:0.5px;margin-right:-0.5px;-webkit-text-stroke:0.35px #000;"><span style="transform:scaleX(0.656);letter-spacing:0.5px;margin-right:-0.5px;-webkit-text-stroke:0.35px #000;">4,198</span></div>
<div class="t c" style="left:598.20px;top:559.87px;font-size:14.0px;font-weight:normal;color:#000;font-family:'Liberation Sans';letter-spacing:0.5px;margin-right:-0.5px;-webkit-text-stroke:0.35px #000;"><span style="transform:scaleX(0.656);letter-spacing:0.5px;margin-right:-0.5px;-webkit-text-stroke:0.35px #000;">348</span></div>
<div class="t c" style="left:658.20px;top:559.87px;font-size:14.0px;font-weight:normal;color:#000;font-family:'Liberation Sans';letter-spacing:0.5px;margin-right:-0.5px;-webkit-text-stroke:0.35px #000;"><span style="transform:scaleX(0.656);letter-spacing:0.5px;margin-right:-0.5px;-webkit-text-stroke:0.35px #000;">8.3</span></div>
<div class="t c" style="left:722.60px;top:559.87px;font-size:14.0px;font-weight:normal;color:#000;font-family:'Liberation Sans';letter-spacing:0.5px;margin-right:-0.5px;-webkit-text-stroke:0.35px #000;"><span style="transform:scaleX(0.656);letter-spacing:0.5px;margin-right:-0.5px;-webkit-text-stroke:0.35px #000;">14</span></div>
<div class="t" style="left:422.50px;top:580.45px;font-size:14.0px;font-weight:normal;color:#000;font-family:'Liberation Sans';transform:scaleX(0.641);transform-origin:0 0;letter-spacing:0.5px;-webkit-text-stroke:0.35px #000;">ZACATECAS</div>
<div class="t c" style="left:536.90px;top:580.45px;font-size:14.0px;font-weight:normal;color:#000;font-family:'Liberation Sans';letter-spacing:0.5px;margin-right:-0.5px;-webkit-text-stroke:0.35px #000;"><span style="transform:scaleX(0.656);letter-spacing:0.5px;margin-right:-0.5px;-webkit-text-stroke:0.35px #000;">2,298</span></div>
<div class="t c" style="left:598.20px;top:580.45px;font-size:14.0px;font-weight:normal;color:#000;font-family:'Liberation Sans';letter-spacing:0.5px;margin-right:-0.5px;-webkit-text-stroke:0.35px #000;"><span style="transform:scaleX(0.656);letter-spacing:0.5px;margin-right:-0.5px;-webkit-text-stroke:0.35px #000;">341</span></div>
<div class="t c" style="left:658.20px;top:580.45px;font-size:14.0px;font-weight:normal;color:#000;font-family:'Liberation Sans';letter-spacing:0.5px;margin-right:-0.5px;-webkit-text-stroke:0.35px #000;"><span style="transform:scaleX(0.656);letter-spacing:0.5px;margin-right:-0.5px;-webkit-text-stroke:0.35px #000;">14.8</span></div>
<div class="t c" style="left:722.60px;top:580.45px;font-size:14.0px;font-weight:normal;color:#000;font-family:'Liberation Sans';letter-spacing:0.5px;margin-right:-0.5px;-webkit-text-stroke:0.35px #000;"><span style="transform:scaleX(0.656);letter-spacing:0.5px;margin-right:-0.5px;-webkit-text-stroke:0.35px #000;">7</span></div>
<div class="r" style="left:420.2px;top:211.2px;width:338.59999999999997px;height:1.8px;background:#000"></div>
<div class="r" style="left:420.2px;top:267.4px;width:338.59999999999997px;height:1.9px;background:#000"></div>
<div class="r" style="left:420.2px;top:597.2px;width:338.6px;height:1.8px;background:#000"></div>
<div class="r" style="left:420.2px;top:617.9px;width:338.6px;height:1.8px;background:#000"></div>
<div class="t" style="left:433.80px;top:601.75px;font-size:14.0px;font-weight:normal;color:#000;font-family:'Liberation Sans';transform:scaleX(0.745);transform-origin:0 0;-webkit-text-stroke:0.35px #000;">Total general</div>
<div class="t c" style="left:536.90px;top:601.75px;font-size:14.0px;font-weight:normal;color:#000;font-family:'Liberation Sans';-webkit-text-stroke:0.35px #000;"><span style="transform:scaleX(0.656);-webkit-text-stroke:0.35px #000;">91,112</span></div>
<div class="t c" style="left:598.20px;top:601.75px;font-size:14.0px;font-weight:normal;color:#000;font-family:'Liberation Sans';-webkit-text-stroke:0.35px #000;"><span style="transform:scaleX(0.656);-webkit-text-stroke:0.35px #000;">8,490</span></div>
<div class="t c" style="left:658.20px;top:601.75px;font-size:14.0px;font-weight:normal;color:#000;font-family:'Liberation Sans';-webkit-text-stroke:0.35px #000;"><span style="transform:scaleX(0.656);-webkit-text-stroke:0.35px #000;">9.3</span></div>
<div class="t c" style="left:722.60px;top:601.75px;font-size:14.0px;font-weight:normal;color:#000;font-family:'Liberation Sans';-webkit-text-stroke:0.35px #000;"><span style="transform:scaleX(0.656);-webkit-text-stroke:0.35px #000;">335</span></div>
<div class="t c" style="left:86.70px;top:235.62px;font-size:12.5px;font-weight:normal;color:#000;font-family:'Liberation Sans';letter-spacing:0.4px;margin-right:-0.4px;-webkit-text-stroke:0.35px #000;"><span style="transform:scaleX(0.7607);letter-spacing:0.4px;margin-right:-0.4px;-webkit-text-stroke:0.35px #000;">Entidad Federativa</span></div>
<div class="t c" style="left:180.00px;top:235.82px;font-size:12.5px;font-weight:normal;color:#000;font-family:'Liberation Sans';letter-spacing:0.4px;margin-right:-0.4px;-webkit-text-stroke:0.35px #000;"><span style="transform:scaleX(0.7252);letter-spacing:0.4px;margin-right:-0.4px;-webkit-text-stroke:0.35px #000;">Casos ETI/IRAG</span></div>
<div class="t c" style="left:251.20px;top:219.52px;font-size:12.5px;font-weight:normal;color:#000;font-family:'Liberation Sans';letter-spacing:0.4px;margin-right:-0.4px;-webkit-text-stroke:0.35px #000;"><span style="transform:scaleX(0.775);letter-spacing:0.4px;margin-right:-0.4px;-webkit-text-stroke:0.35px #000;">Casos</span></div>
<div class="t c" style="left:251.20px;top:235.72px;font-size:12.5px;font-weight:normal;color:#000;font-family:'Liberation Sans';letter-spacing:0.4px;margin-right:-0.4px;-webkit-text-stroke:0.35px #000;"><span style="transform:scaleX(0.7586);letter-spacing:0.4px;margin-right:-0.4px;-webkit-text-stroke:0.35px #000;">positivos a</span></div>
<div class="t c" style="left:251.20px;top:251.92px;font-size:12.5px;font-weight:normal;color:#000;font-family:'Liberation Sans';letter-spacing:0.4px;margin-right:-0.4px;-webkit-text-stroke:0.35px #000;"><span style="transform:scaleX(0.7613);letter-spacing:0.4px;margin-right:-0.4px;-webkit-text-stroke:0.35px #000;">influenza</span></div>
<div class="t c" style="left:306.80px;top:235.42px;font-size:12.5px;font-weight:normal;color:#000;font-family:'Liberation Sans';letter-spacing:0.4px;margin-right:-0.4px;-webkit-text-stroke:0.35px #000;"><span style="transform:scaleX(0.7902);letter-spacing:0.4px;margin-right:-0.4px;-webkit-text-stroke:0.35px #000;">%*</span></div>
<div class="t c" style="left:364.50px;top:227.32px;font-size:12.5px;font-weight:normal;color:#000;font-family:'Liberation Sans';letter-spacing:0.4px;margin-right:-0.4px;-webkit-text-stroke:0.35px #000;"><span style="transform:scaleX(0.7659);letter-spacing:0.4px;margin-right:-0.4px;-webkit-text-stroke:0.35px #000;">Defunciones</span></div>
<div class="t c" style="left:364.50px;top:243.02px;font-size:12.5px;font-weight:normal;color:#000;font-family:'Liberation Sans';letter-spacing:0.4px;margin-right:-0.4px;-webkit-text-stroke:0.35px #000;"><span style="transform:scaleX(0.7591);letter-spacing:0.4px;margin-right:-0.4px;-webkit-text-stroke:0.35px #000;">por influenza</span></div>
<div class="t c" style="left:463.00px;top:227.42px;font-size:12.5px;font-weight:normal;color:#000;font-family:'Liberation Sans';letter-spacing:0.4px;margin-right:-0.4px;-webkit-text-stroke:0.35px #000;"><span style="transform:scaleX(0.7666);letter-spacing:0.4px;margin-right:-0.4px;-webkit-text-stroke:0.35px #000;">Entidad</span></div>
<div class="t c" style="left:463.00px;top:243.42px;font-size:12.5px;font-weight:normal;color:#000;font-family:'Liberation Sans';letter-spacing:0.4px;margin-right:-0.4px;-webkit-text-stroke:0.35px #000;"><span style="transform:scaleX(0.7635);letter-spacing:0.4px;margin-right:-0.4px;-webkit-text-stroke:0.35px #000;">Federativa</span></div>
<div class="t c" style="left:536.80px;top:227.42px;font-size:12.5px;font-weight:normal;color:#000;font-family:'Liberation Sans';letter-spacing:0.4px;margin-right:-0.4px;-webkit-text-stroke:0.35px #000;"><span style="transform:scaleX(0.775);letter-spacing:0.4px;margin-right:-0.4px;-webkit-text-stroke:0.35px #000;">Casos</span></div>
<div class="t c" style="left:536.60px;top:243.42px;font-size:12.5px;font-weight:normal;color:#000;font-family:'Liberation Sans';letter-spacing:0.4px;margin-right:-0.4px;-webkit-text-stroke:0.35px #000;"><span style="transform:scaleX(0.7298);letter-spacing:0.4px;margin-right:-0.4px;-webkit-text-stroke:0.35px #000;">ETI/IRAG</span></div>
<div class="t c" style="left:598.40px;top:219.52px;font-size:12.5px;font-weight:normal;color:#000;font-family:'Liberation Sans';letter-spacing:0.4px;margin-right:-0.4px;-webkit-text-stroke:0.35px #000;"><span style="transform:scaleX(0.775);letter-spacing:0.4px;margin-right:-0.4px;-webkit-text-stroke:0.35px #000;">Casos</span></div>
<div class="t c" style="left:598.40px;top:235.72px;font-size:12.5px;font-weight:normal;color:#000;font-family:'Liberation Sans';letter-spacing:0.4px;margin-right:-0.4px;-webkit-text-stroke:0.35px #000;"><span style="transform:scaleX(0.7586);letter-spacing:0.4px;margin-right:-0.4px;-webkit-text-stroke:0.35px #000;">positivos a</span></div>
<div class="t c" style="left:598.40px;top:251.92px;font-size:12.5px;font-weight:normal;color:#000;font-family:'Liberation Sans';letter-spacing:0.4px;margin-right:-0.4px;-webkit-text-stroke:0.35px #000;"><span style="transform:scaleX(0.7613);letter-spacing:0.4px;margin-right:-0.4px;-webkit-text-stroke:0.35px #000;">influenza</span></div>
<div class="t c" style="left:657.90px;top:235.42px;font-size:12.5px;font-weight:normal;color:#000;font-family:'Liberation Sans';letter-spacing:0.4px;margin-right:-0.4px;-webkit-text-stroke:0.35px #000;"><span style="transform:scaleX(0.7902);letter-spacing:0.4px;margin-right:-0.4px;-webkit-text-stroke:0.35px #000;">%*</span></div>
<div class="t c" style="left:723.00px;top:227.32px;font-size:12.5px;font-weight:normal;color:#000;font-family:'Liberation Sans';letter-spacing:0.4px;margin-right:-0.4px;-webkit-text-stroke:0.35px #000;"><span style="transform:scaleX(0.7659);letter-spacing:0.4px;margin-right:-0.4px;-webkit-text-stroke:0.35px #000;">Defunciones</span></div>
<div class="t c" style="left:723.00px;top:243.02px;font-size:12.5px;font-weight:normal;color:#000;font-family:'Liberation Sans';letter-spacing:0.4px;margin-right:-0.4px;-webkit-text-stroke:0.35px #000;"><span style="transform:scaleX(0.7591);letter-spacing:0.4px;margin-right:-0.4px;-webkit-text-stroke:0.35px #000;">por influenza</span></div>
<div class="t" style="left:33.80px;top:622.00px;font-size:13px;font-weight:normal;color:#111;font-family:'Liberation Sans';transform:scaleX(0.699);transform-origin:0 0;-webkit-text-stroke:0.35px #111;letter-spacing:0.5px;-webkit-text-stroke:0.35px #000;">*% de casos positivos a influenza respecto a los casos ETI e IRAG</div>
<div class="t" style="left:40.60px;top:651.06px;font-size:9.62px;font-weight:normal;color:#222;font-family:'Liberation Sans';transform:scaleX(1.0);transform-origin:0 0;">Fuente: SINAVE/DGE/Vigilancia Epidemiológica de Enfermedad Respiratoria Viral, acceso el 06/04/2026.</div>
<div class="r" style="left:26px;top:151.7px;width:738px;height:56.4px;background:#285b4e"></div>
<div class="t c" style="left:395.00px;top:163.78px;font-size:13.85px;font-weight:bold;color:#fff;font-family:'Liberation Sans';white-space:pre;"><span style="transform:scaleX(0.994);white-space:pre;">Tabla 4. Casos ETI/IRAG notificados, casos positivos, proporción de casos positivos  y defunciones por</span></div>
<div class="t c" style="left:395.00px;top:188.88px;font-size:13.85px;font-weight:bold;color:#fff;font-family:'Liberation Sans';"><span style="transform:scaleX(1.015);">influenza según entidad federativa. México, temporada de influenza estacional 2025-2026</span></div>
<div class="t" style="left:92.30px;top:97.44px;font-size:18.5px;font-weight:bold;color:#800000;font-family:'Liberation Sans';transform:scaleX(1.062);transform-origin:0 0;-webkit-text-stroke:0.35px #800000;">Información de la temporada de influenza estacional 2025-2026</div>
<div class="r" style="left:26px;top:70.9px;width:738px;height:9.3px;background:linear-gradient(#545454 80%,#6a6a6a)"></div>
<div class="r" style="left:651px;top:4px;width:114px;height:63px;background:#691b31"></div>
<div class="t c" style="left:708.30px;top:27.38px;font-size:15.5px;font-weight:bold;color:#fff;font-family:'Liberation Sans';"><span style="transform:scaleX(1.03);">INFLUENZA</span></div>
<div class="t" style="left:121.30px;top:23.72px;font-size:27.5px;font-weight:bold;color:#6b1f38;font-family:'Liberation Sans';transform:scaleX(0.984);transform-origin:0 0;">Salud</div>
<div class="t" style="left:122.00px;top:48.69px;font-size:11px;font-weight:bold;color:#2b2b2b;font-family:'Liberation Sans';transform:scaleX(0.88);transform-origin:0 0;-webkit-text-stroke:0.2px #2b2b2b;">Secretaría de Salud</div>
<div class="r" style="left:221.6px;top:27px;width:1.2px;height:32px;background:#9c6a7e"></div>
<div class="r" style="left:408.8px;top:27px;width:1.2px;height:32px;background:#9c6a7e"></div>
<div class="t" style="left:226.00px;top:30.05px;font-size:12.7px;font-weight:bold;color:#1a1a1a;font-family:'Liberation Sans';transform:scaleX(0.98);transform-origin:0 0;-webkit-text-stroke:0.3px #1a1a1a;">Subsecretaría de Políticas de</div>
<div class="t" style="left:226.00px;top:43.55px;font-size:12.7px;font-weight:bold;color:#1a1a1a;font-family:'Liberation Sans';transform:scaleX(0.974);transform-origin:0 0;-webkit-text-stroke:0.3px #1a1a1a;">Salud y Bienestar Poblacional</div>
<div class="t" style="left:419.30px;top:30.47px;font-size:11.5px;font-weight:bold;color:#1a1a1a;font-family:'Liberation Sans';transform:scaleX(1.05);transform-origin:0 0;-webkit-text-stroke:0.3px #1a1a1a;">Dirección General</div>
<div class="t" style="left:419.30px;top:43.77px;font-size:11.5px;font-weight:bold;color:#1a1a1a;font-family:'Liberation Sans';transform:scaleX(1.05);transform-origin:0 0;-webkit-text-stroke:0.3px #1a1a1a;">de Epidemiología</div>
<div class="t" style="left:583.30px;top:10.12px;font-size:23.5px;font-weight:bold;color:#c49833;font-family:'Liberation Serif';transform:scaleX(1.135);transform-origin:0 0;-webkit-text-stroke:0.5px #c49833;">2026</div>
<div class="t c" style="left:609.80px;top:30.21px;font-size:10.5px;font-weight:bold;color:#b09860;font-family:'Liberation Serif';"><span style="transform:scaleX(1.0);">año de</span></div>
<div class="t" style="left:583.70px;top:40.42px;font-size:10px;font-weight:bold;color:#7e1f45;font-family:'Liberation Serif';transform:scaleX(1.16);transform-origin:0 0;-webkit-text-stroke:0.2px #7e1f45;">Margarita</div>
<div class="t" style="left:583.70px;top:47.65px;font-size:20px;font-weight:bold;color:#861c43;font-family:'Liberation Serif';transform:scaleX(1.09);transform-origin:0 0;-webkit-text-stroke:0.3px #861c43;">Maza</div>
<svg class="r" style="left:56px;top:14px" width="62" height="58" viewBox="56 14 62 58"><path id="arc" d="M65.12 44.72 A21.2 21.2 0 1 1 107.28 44.72" fill="none"/><text font-family="Liberation Serif" font-weight="bold" font-size="7" fill="#c4a45a" stroke="#c4a45a" stroke-width="0.2"><textPath href="#arc" startOffset="0.5" textLength="71" lengthAdjust="spacing">ESTADOS UNIDOS MEXICANOS</textPath></text><ellipse cx="108.69" cy="48.95" rx="2.5" ry="1.7" transform="rotate(86.0 108.69 48.95)" fill="#c4a45a"/><ellipse cx="106.80" cy="53.61" rx="2.5" ry="1.7" transform="rotate(138.3 106.80 53.61)" fill="#c4a45a"/><ellipse cx="103.95" cy="57.75" rx="2.5" ry="1.7" transform="rotate(110.7 103.95 57.75)" fill="#c4a45a"/><ellipse cx="100.28" cy="61.19" rx="2.5" ry="1.7" transform="rotate(163.0 100.28 61.19)" fill="#c4a45a"/><ellipse cx="95.97" cy="63.76" rx="2.5" ry="1.7" transform="rotate(135.3 95.97 63.76)" fill="#c4a45a"/><ellipse cx="91.20" cy="65.36" rx="2.5" ry="1.7" transform="rotate(187.7 91.20 65.36)" fill="#c4a45a"/><ellipse cx="86.20" cy="65.90" rx="2.5" ry="1.7" transform="rotate(160.0 86.20 65.90)" fill="#c4a45a"/><ellipse cx="81.20" cy="65.36" rx="2.5" ry="1.7" transform="rotate(212.3 81.20 65.36)" fill="#c4a45a"/><ellipse cx="76.43" cy="63.76" rx="2.5" ry="1.7" transform="rotate(184.7 76.43 63.76)" fill="#c4a45a"/><ellipse cx="72.12" cy="61.19" rx="2.5" ry="1.7" transform="rotate(237.0 72.12 61.19)" fill="#c4a45a"/><ellipse cx="68.45" cy="57.75" rx="2.5" ry="1.7" transform="rotate(209.3 68.45 57.75)" fill="#c4a45a"/><ellipse cx="65.60" cy="53.61" rx="2.5" ry="1.7" transform="rotate(261.7 65.60 53.61)" fill="#c4a45a"/><ellipse cx="63.71" cy="48.95" rx="2.5" ry="1.7" transform="rotate(234.0 63.71 48.95)" fill="#c4a45a"/><ellipse cx="104.56" cy="49.92" rx="1.9" ry="1.1" transform="rotate(72.0 104.56 49.92)" fill="#c4a45a" opacity="0.8"/><ellipse cx="102.54" cy="53.68" rx="1.9" ry="1.1" transform="rotate(84.4 102.54 53.68)" fill="#c4a45a" opacity="0.8"/><ellipse cx="99.77" cy="56.92" rx="1.9" ry="1.1" transform="rotate(96.7 99.77 56.92)" fill="#c4a45a" opacity="0.8"/><ellipse cx="96.37" cy="59.49" rx="1.9" ry="1.1" transform="rotate(109.1 96.37 59.49)" fill="#c4a45a" opacity="0.8"/><ellipse cx="92.50" cy="61.27" rx="1.9" ry="1.1" transform="rotate(121.5 92.50 61.27)" fill="#c4a45a" opacity="0.8"/><ellipse cx="88.33" cy="62.18" rx="1.9" ry="1.1" transform="rotate(133.8 88.33 62.18)" fill="#c4a45a" opacity="0.8"/><ellipse cx="84.07" cy="62.18" rx="1.9" ry="1.1" transform="rotate(146.2 84.07 62.18)" fill="#c4a45a" opacity="0.8"/><ellipse cx="79.90" cy="61.27" rx="1.9" ry="1.1" transform="rotate(158.5 79.90 61.27)" fill="#c4a45a" opacity="0.8"/><ellipse cx="76.03" cy="59.49" rx="1.9" ry="1.1" transform="rotate(170.9 76.03 59.49)" fill="#c4a45a" opacity="0.8"/><ellipse cx="72.63" cy="56.92" rx="1.9" ry="1.1" transform="rotate(183.3 72.63 56.92)" fill="#c4a45a" opacity="0.8"/><ellipse cx="69.86" cy="53.68" rx="1.9" ry="1.1" transform="rotate(195.6 69.86 53.68)" fill="#c4a45a" opacity="0.8"/><ellipse cx="67.84" cy="49.92" rx="1.9" ry="1.1" transform="rotate(208.0 67.84 49.92)" fill="#c4a45a" opacity="0.8"/><g transform="translate(87 43) scale(0.9) translate(-87 -43)"><path d="M80 26 C83 22 89 21 94 22 C101 24 106 31 106 39 C106 44 104 47 101 49 L92 46 C86 43 81 38 79.5 32 Z" fill="#c4a45a" opacity="0.8"/><circle cx="81.0" cy="28.0" r="0.73" fill="#fff" opacity="0.45"/><circle cx="72.5" cy="43.4" r="0.58" fill="#fff" opacity="0.45"/><circle cx="72.0" cy="42.3" r="0.42" fill="#fff" opacity="0.45"/><circle cx="84.7" cy="24.8" r="0.45" fill="#fff" opacity="0.45"/><circle cx="84.4" cy="55.1" r="0.46" fill="#fff" opacity="0.45"/><circle cx="77.6" cy="47.1" r="0.87" fill="#fff" opacity="0.45"/><circle cx="89.6" cy="37.9" r="0.89" fill="#fff" opacity="0.45"/><circle cx="79.8" cy="27.8" r="0.46" fill="#fff" opacity="0.45"/><circle cx="80.5" cy="54.6" r="0.49" fill="#fff" opacity="0.45"/><circle cx="89.8" cy="47.6" r="0.59" fill="#fff" opacity="0.45"/><circle cx="88.6" cy="24.5" r="0.43" fill="#fff" opacity="0.45"/><circle cx="77.0" cy="49.2" r="0.61" fill="#fff" opacity="0.45"/><circle cx="80.7" cy="45.4" r="0.63" fill="#fff" opacity="0.45"/><circle cx="80.2" cy="53.8" r="0.75" fill="#fff" opacity="0.45"/><circle cx="78.3" cy="45.0" r="0.66" fill="#fff" opacity="0.45"/><circle cx="99.8" cy="51.2" r="0.54" fill="#fff" opacity="0.45"/><circle cx="84.2" cy="52.3" r="0.48" fill="#fff" opacity="0.45"/><circle cx="92.7" cy="52.6" r="0.69" fill="#fff" opacity="0.45"/><circle cx="99.8" cy="34.5" r="0.75" fill="#fff" opacity="0.45"/><circle cx="90.2" cy="45.2" r="0.63" fill="#fff" opacity="0.45"/><circle cx="86.1" cy="48.6" r="0.43" fill="#fff" opacity="0.45"/><circle cx="93.9" cy="47.9" r="0.90" fill="#fff" opacity="0.45"/><circle cx="97.9" cy="33.4" r="0.59" fill="#fff" opacity="0.45"/><circle cx="85.7" cy="28.7" r="0.46" fill="#fff" opacity="0.45"/><circle cx="74.4" cy="31.9" r="0.60" fill="#fff" opacity="0.45"/><circle cx="85.3" cy="44.0" r="0.84" fill="#fff" opacity="0.45"/><circle cx="79.5" cy="38.6" r="0.58" fill="#fff" opacity="0.45"/><circle cx="75.1" cy="29.0" r="0.52" fill="#fff" opacity="0.45"/><circle cx="77.9" cy="41.4" r="0.69" fill="#fff" opacity="0.45"/><circle cx="84.2" cy="36.8" r="0.68" fill="#fff" opacity="0.45"/><circle cx="102.4" cy="49.6" r="0.66" fill="#fff" opacity="0.45"/><circle cx="91.0" cy="49.0" r="0.43" fill="#fff" opacity="0.45"/><circle cx="100.6" cy="53.2" r="0.84" fill="#fff" opacity="0.45"/><circle cx="97.1" cy="37.7" r="0.60" fill="#fff" opacity="0.45"/><circle cx="73.5" cy="47.4" r="0.43" fill="#fff" opacity="0.45"/><circle cx="75.5" cy="35.6" r="0.43" fill="#fff" opacity="0.45"/><circle cx="73.4" cy="36.5" r="0.41" fill="#fff" opacity="0.45"/><circle cx="99.7" cy="46.6" r="0.47" fill="#fff" opacity="0.45"/><circle cx="78.6" cy="35.9" r="0.58" fill="#fff" opacity="0.45"/><circle cx="103.8" cy="40.6" r="0.64" fill="#fff" opacity="0.45"/><circle cx="81.6" cy="32.6" r="0.81" fill="#fff" opacity="0.45"/><circle cx="102.3" cy="43.1" r="0.47" fill="#fff" opacity="0.45"/><circle cx="99.4" cy="49.8" r="0.53" fill="#fff" opacity="0.45"/><circle cx="82.5" cy="28.7" r="0.79" fill="#fff" opacity="0.45"/><circle cx="88.1" cy="53.2" r="0.56" fill="#fff" opacity="0.45"/><circle cx="77.6" cy="54.5" r="0.89" fill="#fff" opacity="0.45"/><circle cx="99.0" cy="54.2" r="0.81" fill="#fff" opacity="0.45"/><circle cx="95.2" cy="31.1" r="0.66" fill="#fff" opacity="0.45"/><circle cx="78.8" cy="49.7" r="0.88" fill="#fff" opacity="0.45"/><circle cx="85.2" cy="59.5" r="0.89" fill="#fff" opacity="0.45"/><circle cx="102.5" cy="36.6" r="0.51" fill="#fff" opacity="0.45"/><path d="M94 38 L105 46.5" stroke="#fff" stroke-width="1" opacity="0.9"/><path d="M71 27.5 C73.5 24 78.5 23.5 81 27 C82.5 30 82 34 80.5 38 L76 37.5 C76.5 35 75 33 71.5 32.5 C70.5 30.5 70.5 29 71 27.5 Z" fill="#c4a45a" opacity="0.9"/><path d="M69.5 34.5 C71 39 75 41 79 43 C82 45.5 78.5 49 74.5 48.5" fill="none" stroke="#c4a45a" stroke-width="1.4"/><path d="M80 40 C85 45 92 49 100 50.5 L98 53.5 C90 53.5 84 50 78.5 45.5 Z" fill="#c4a45a" opacity="0.75"/><path d="M72 50 C76 47.5 82 48.5 86 50.5 C90 48.5 96 49 100 52 C97 57.5 91.5 60.5 86 60.5 C80 61 75 57 72 50 Z" fill="#c4a45a" opacity="0.75"/><path d="M76 53 L97 53 M78 56.5 L94 56.5" stroke="#fff" stroke-width="0.6" opacity="0.7"/></g></svg>
<svg class="r" style="left:508px;top:4px" width="80" height="64" viewBox="508 4 80 64">
<path d="M539.5 39 L540 47 L558 46 L557 38 Z" fill="#e2e2e2"/><path d="M540 42 C546 45.5 552 45.5 557 42 L557.5 46 L540.5 46.8 Z" fill="#b0b0b0"/>
<path d="M512.5 65 C515 59 522 52 535 47.5 C538 49 541 50 545 50.8 C550 50.5 554 48.5 559 46 C566 49 574 55 580.5 65 Z" fill="#1b1a1a"/>
<path d="M535 47.5 C538 46 541 45.6 545 45.8 C550 46 555 45.6 559 46 C555 48.5 550 50.5 545 50.8 C541 50 538 49 535 47.5 Z" fill="#fafafa" stroke="#8a8a8a" stroke-width="0.4"/>
<path d="M543.5 48.5 L547 48.3 L546.5 51 L546 65 L544.5 65 L544 51 Z" fill="#111"/>
<path d="M538 23 C536.5 30 537 37 542 41.5 C546 44.5 551 44.8 554.5 42.8 C558.5 40 560 34 559.5 24 C557 19 552 16.8 548.4 16.8 C544 17 540 19.5 538 23 Z" fill="#fdfdfd" stroke="#555" stroke-width="0.5"/>
<path d="M538 23 C536.5 30 537 37 542 41.5 C543.5 42.7 545 43.5 546.5 44 C543 40.5 540 35.5 539.6 29 C539.4 26 538.8 24 538 23 Z" fill="#c4c4c4"/>
<path d="M546 41.8 C549 43.5 552.5 43.2 555 41.5 C553 44.5 548 45 546 41.8 Z" fill="#9a9a9a"/>
<path d="M528 22 C527 14 532.5 8.4 539.5 8.3 C543.5 8.3 546.5 9.6 548.4 11 C550.5 9.6 554 9.2 557.8 10.2 C562 12 563.5 18 561 25.5 L559.3 24.5 C558 20 553 17 548.4 16.8 C544.5 17 540 19.3 538 23 C537 26 536.5 28 535.5 30 L531 29 C529 26.5 528 24.5 528 22 Z" fill="#1c1b1b"/>
<path d="M548.4 11 L548.4 16.6" stroke="#e6e6e6" stroke-width="0.8"/>
<ellipse cx="532.8" cy="28.6" rx="2.1" ry="2.9" fill="#e4e4e4" stroke="#666" stroke-width="0.4"/>
<path d="M530 31.5 C536 30.5 538.5 35 538 40 C537.5 44 535 45.8 532.5 45 C529 44 528.5 39 528.8 35.5 C529 33.5 529.3 32.3 530 31.5 Z" fill="#1e1d1d"/>
<path d="M541.8 27.8 Q545 25.6 548.6 27.6 Q545 29.2 541.8 27.8 Z" fill="#2a2a2a"/>
<path d="M552.2 27.4 Q555.2 25.4 558.2 27.2 Q555.2 28.8 552.2 27.4 Z" fill="#2a2a2a"/>
<path d="M541.5 25 Q545 23.4 548.5 24.8" fill="none" stroke="#555" stroke-width="0.7"/>
<path d="M552 24.6 Q555.5 23.2 558.5 24.4" fill="none" stroke="#555" stroke-width="0.7"/>
<path d="M549.2 28.5 L548.4 34 L551.8 35.2" fill="none" stroke="#555" stroke-width="0.7"/>
<path d="M547.5 35 Q549.5 36.2 552.5 35" fill="none" stroke="#333" stroke-width="0.9"/>
<path d="M546 38.4 Q550 39.6 554 38.2" fill="none" stroke="#333" stroke-width="1"/>
</svg>
</body></html>
